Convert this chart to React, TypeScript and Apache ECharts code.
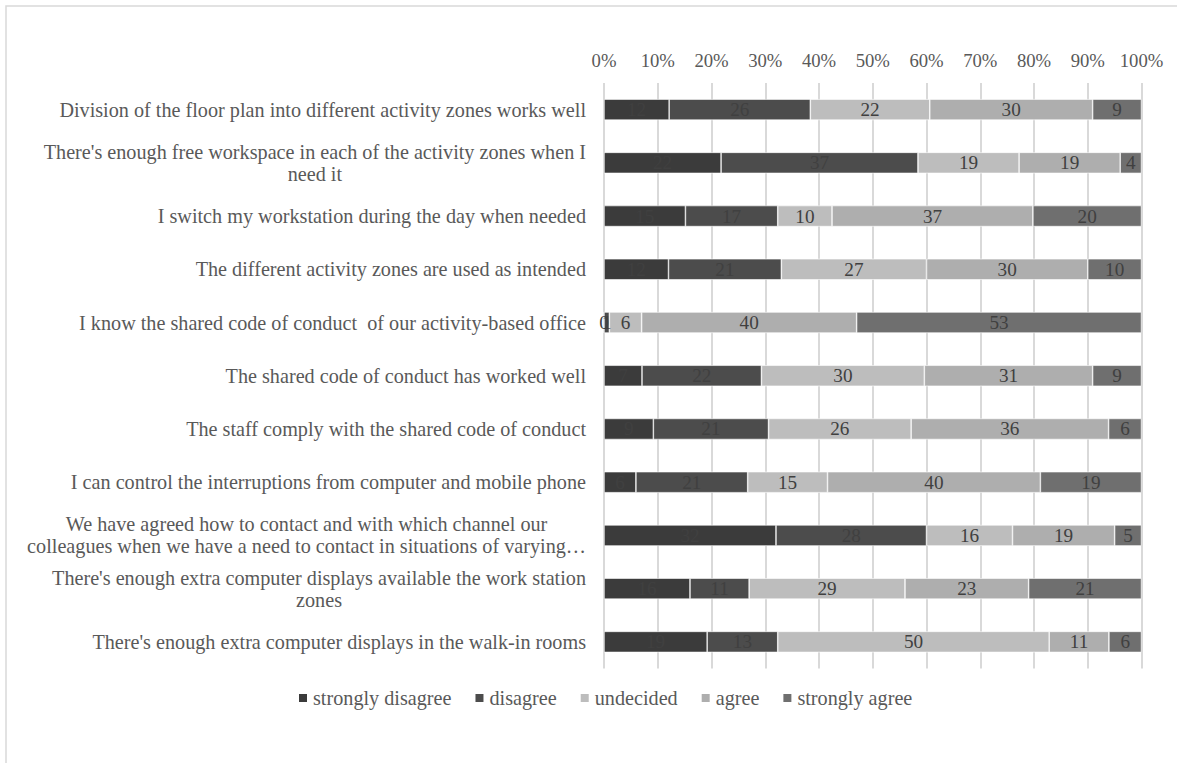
import React, { useEffect, useRef } from "react";
import * as echarts from "echarts";

const categories: string[] = [
  "Division of the floor plan into different activity zones works well",
  "There's enough free workspace in each of the activity zones when I\nneed it",
  "I switch my workstation during the day when needed",
  "The different activity zones are used as intended",
  "I know the shared code of conduct  of our activity-based office",
  "The shared code of conduct has worked well",
  "The staff comply with the shared code of conduct",
  "I can control the interruptions from computer and mobile phone",
  "We have agreed how to contact and with which channel our\ncolleagues when we have a need to contact in situations of varying…",
  "There's enough extra computer displays available the work station\nzones",
  "There's enough extra computer displays in the walk-in rooms",
];

const seriesNames: string[] = ["strongly disagree", "disagree", "undecided", "agree", "strongly agree"];

const stronglyDisagree: number[] = [12, 22, 15, 12, 0, 7, 9, 6, 32, 16, 19];
const disagree: number[] = [26, 37, 17, 21, 1, 22, 21, 21, 28, 11, 13];
const undecided: number[] = [22, 19, 10, 27, 6, 30, 26, 15, 16, 29, 50];
const agree: number[] = [30, 19, 37, 30, 40, 31, 36, 40, 19, 23, 11];
const stronglyAgree: number[] = [9, 4, 20, 10, 53, 9, 6, 19, 5, 21, 6];

const tickLabels: string[] = ["0%", "10%", "20%", "30%", "40%", "50%", "60%", "70%", "80%", "90%", "100%"];

const colors = ["#3b3b3b", "#4c4c4c", "#bdbdbd", "#aeaeae", "#6f6f6f"];

const FONT = "'Liberation Serif', 'Times New Roman', serif";
const FS_AXIS = 18.7;
const FS_CAT = 20.2;
const FS_LABEL = 19.2;

export default function App() {
  const ref = useRef<HTMLDivElement>(null);

  useEffect(() => {
    if (!ref.current) return;
    const chart = echarts.init(ref.current, undefined, { renderer: "svg" });
    const all = [stronglyDisagree, disagree, undecided, agree, stronglyAgree];
    const totals = categories.map((_, i) => all.reduce((s, arr) => s + arr[i], 0));

    const series = all.map((arr, k) => ({
      name: seriesNames[k],
      type: "bar",
      stack: "total",
      barWidth: 21,
      data: arr.map((v, i) => (v / totals[i]) * 100),
      itemStyle: { color: colors[k], borderColor: "#ffffff", borderWidth: 0.6 },
      label: {
        show: true,
        position: "inside",
        formatter: (p: any) => String(arr[p.dataIndex]),
        fontFamily: FONT,
        fontSize: FS_LABEL,
        color: "#404040",
      },
      emphasis: { disabled: true },
    }));

    chart.setOption({
      animation: false,
      backgroundColor: "#ffffff",
      grid: { left: 604, right: 35.5, top: 83, bottom: 94.5, containLabel: false },
      xAxis: {
        type: "value",
        position: "top",
        min: 0,
        max: 100,
        interval: 10,
        axisLine: { show: false },
        axisTick: { show: false },
        axisLabel: {
          margin: 13,
          fontFamily: FONT,
          fontSize: FS_AXIS,
          color: "#595959",
          formatter: (v: number) => tickLabels[Math.round(v / 10)],
        },
        splitLine: { show: true, lineStyle: { color: "#d9d9d9", width: 2 } },
      },
      yAxis: {
        type: "category",
        inverse: true,
        data: categories,
        axisLine: { show: false },
        axisTick: { show: false },
        axisLabel: {
          margin: 18,
          align: "right",
          fontFamily: FONT,
          fontSize: FS_CAT,
          color: "#595959",
          formatter: (v: string) => v.split("\n").map((l) => `{c|${l}}`).join("\n"),
          rich: {
            c: { align: "center", fontFamily: FONT, fontSize: FS_CAT, color: "#595959", lineHeight: 22 },
          },
        },
      },
      legend: {
        data: seriesNames,
        left: 297,
        top: 688,
        padding: 0,
        icon: "rect",
        itemWidth: 10,
        itemHeight: 10,
        itemGap: 22,
        textStyle: { fontFamily: FONT, fontSize: FS_CAT, color: "#595959" },
        selectedMode: false,
      },
      graphic: [
        {
          type: "rect",
          shape: { x: 6, y: 6, width: 1400, height: 1000 },
          style: { fill: "none", stroke: "#d9d9d9", lineWidth: 1.5 },
          silent: true,
        },
      ],
      series,
    });

    return () => chart.dispose();
  }, []);

  return (
    <div
      ref={ref}
      style={{ position: "fixed", left: 0, top: 0, width: 1177, height: 763 }}
    />
  );
}
